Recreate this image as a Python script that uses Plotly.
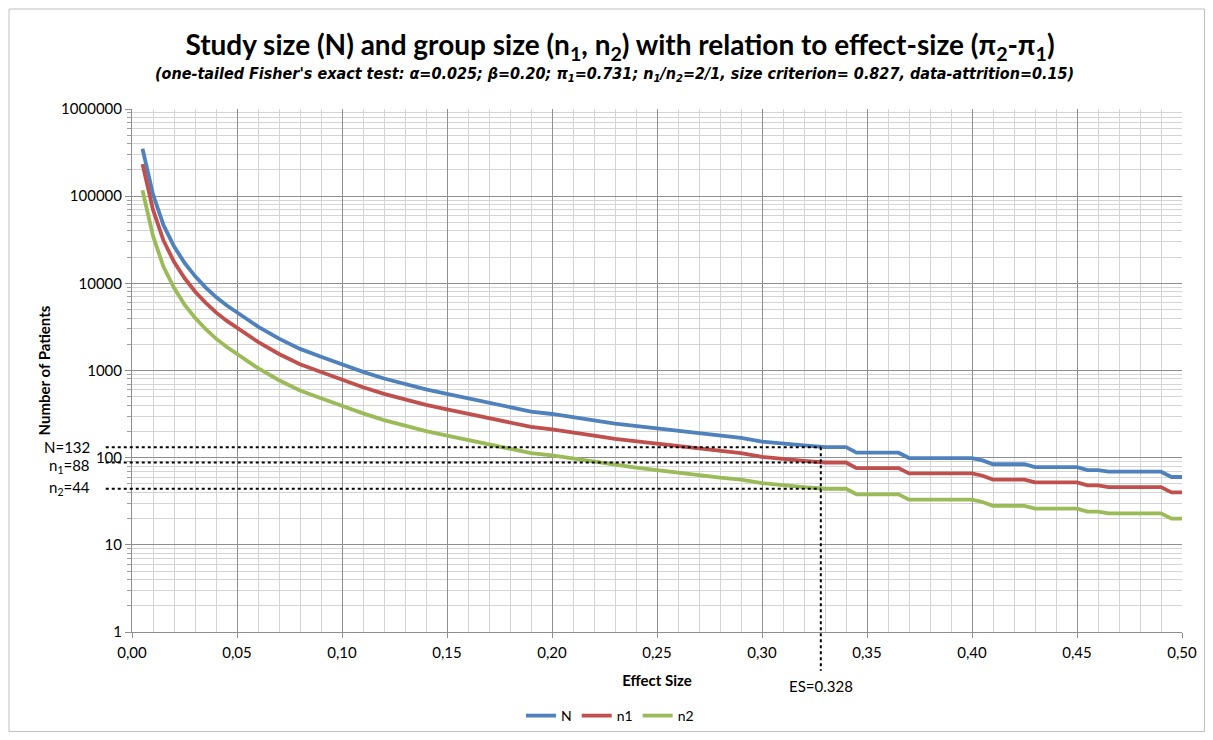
import math
import plotly.graph_objects as go

# ---- data ----
effect_size = [0.005, 0.01, 0.015, 0.02, 0.025, 0.03, 0.035, 0.04, 0.045, 0.05,
               0.06, 0.07, 0.08, 0.09, 0.10, 0.11, 0.12, 0.13, 0.14, 0.15,
               0.16, 0.17, 0.18, 0.19, 0.20, 0.21, 0.22, 0.23, 0.24, 0.25,
               0.26, 0.27, 0.28, 0.29, 0.30, 0.31, 0.32, 0.33, 0.335, 0.34,
               0.345, 0.35, 0.355, 0.36, 0.365, 0.37, 0.375, 0.38, 0.385, 0.39,
               0.395, 0.40, 0.405, 0.41, 0.415, 0.42, 0.425, 0.43, 0.435, 0.44,
               0.445, 0.45, 0.455, 0.46, 0.465, 0.47, 0.475, 0.48, 0.485, 0.49,
               0.495, 0.50]

N_total = [350000, 105000, 46500, 26600, 17200, 12100, 9000, 6960, 5600, 4660,
           3190, 2320, 1770, 1440, 1177, 965, 810, 698, 606, 538,
           479, 423, 379, 338, 317, 294, 268, 246, 231, 217,
           203, 190, 178, 169, 153, 147, 138, 132, 132, 132,
           114, 114, 114, 114, 114, 99, 99, 99, 99, 99,
           99, 99, 93, 84, 84, 84, 84, 78, 78, 78,
           78, 78, 72, 72, 69, 69, 69, 69, 69, 69,
           60, 60]

n1_group = [233000, 70000, 31000, 17700, 11500, 8070, 6000, 4640, 3730, 3110,
            2127, 1547, 1180, 960, 785, 643, 540, 465, 404, 359,
            319, 282, 253, 225, 211, 196, 179, 164, 154, 145,
            135, 127, 119, 113, 102, 98, 92, 88, 88, 88,
            76, 76, 76, 76, 76, 66, 66, 66, 66, 66,
            66, 66, 62, 56, 56, 56, 56, 52, 52, 52,
            52, 52, 48, 48, 46, 46, 46, 46, 46, 46,
            40, 40]

n2_group = [117000, 35000, 15500, 8900, 5700, 4030, 3000, 2320, 1870, 1550,
            1063, 773, 590, 480, 392, 322, 270, 233, 202, 179,
            160, 141, 126, 113, 106, 98, 89, 82, 77, 72,
            68, 63, 59, 56, 51, 49, 46, 44, 44, 44,
            38, 38, 38, 38, 38, 33, 33, 33, 33, 33,
            33, 33, 31, 28, 28, 28, 28, 26, 26, 26,
            26, 26, 24, 24, 23, 23, 23, 23, 23, 23,
            20, 20]

series_names = ["N", "n1", "n2"]
series_colors = ["#4F81BD", "#C0504D", "#9BBB59"]

es_marker = 0.328
N_marker = 132
n1_marker = 88
n2_marker = 44

x_max = 0.5
y_decades = 6

title_text = ("<b>Study size (N) and group size (n<sub>1</sub>, n<sub>2</sub>) "
              "with relation to effect-size (π<sub>2</sub>-π<sub>1</sub>)</b>")
subtitle_text = ("<b><i>(one-tailed Fisher's exact test: α=0.025; β=0.20; π<sub>1</sub>=0.731; "
                 "n<sub>1</sub>/n<sub>2</sub>=2/1, size criterion= 0.827, data-attrition=0.15)</i></b>")

# ---- figure geometry (page has an 8px body margin) ----
OFF = 8
FIG_W, FIG_H = 1197, 724
M_L, M_T = 132 - OFF, 109 - OFF
PLOT_W, PLOT_H = 1050, 523
M_R = FIG_W - M_L - PLOT_W
M_B = FIG_H - M_T - PLOT_H


def cx(page_x):
    return (page_x - OFF) / FIG_W


def cy(page_y):
    return 1 - (page_y - OFF) / FIG_H


fig = go.Figure()
for name, vals, col in zip(series_names, [N_total, n1_group, n2_group], series_colors):
    fig.add_trace(go.Scatter(x=effect_size, y=vals, name=name, mode="lines",
                             line=dict(color=col, width=3.8)))

base_font = "Lato, 'Open Sans', Arial, sans-serif"

fig.update_layout(
    width=FIG_W, height=FIG_H,
    margin=dict(l=M_L, r=M_R, t=M_T, b=M_B, autoexpand=False),
    paper_bgcolor="white", plot_bgcolor="white",
    separators=",.",
    font=dict(family=base_font, size=14, color="#000000"),
    title=dict(text=title_text, x=cx(620), xref="container", xanchor="center",
               y=cy(45), yref="container", yanchor="middle",
               font=dict(family="Lato, 'Open Sans', sans-serif", size=28, color="#000")),
    showlegend=True,
    legend=dict(orientation="h", xref="container", yref="container",
                x=cx(610), xanchor="center", y=cy(716), yanchor="middle",
                font=dict(size=14), itemwidth=30, tracegroupgap=0, bgcolor="rgba(0,0,0,0)"),
)

fig.update_xaxes(
    range=[0, x_max], dtick=0.05, tick0=0, tickformat=".2f",
    showgrid=True, gridcolor="#8F8F8F", gridwidth=1,
    showline=True, linecolor="#8F8F8F", linewidth=1, mirror=False,
    ticks="outside", ticklen=5, tickcolor="#8F8F8F",
    ticklabelstandoff=2,
    minor=dict(dtick=0.01, showgrid=True, gridcolor="#D4D4D4", gridwidth=1),
    zeroline=False,
    title=dict(text="<b>Effect Size</b>", font=dict(size=15), standoff=15),
    tickfont=dict(size=15),
)
fig.update_yaxes(
    type="log", range=[0, y_decades], dtick=1, tickformat="d",
    showgrid=True, gridcolor="#8F8F8F", gridwidth=1,
    showline=True, linecolor="#8F8F8F", linewidth=1,
    ticks="outside", ticklen=6, tickcolor="#8F8F8F",
    minor=dict(dtick="D1", showgrid=True, gridcolor="#D4D4D4", gridwidth=1,
               ticks="outside", ticklen=4, tickcolor="#A0A0A0"),
    zeroline=False,
    title=dict(text="<b>Number of Patients</b>", font=dict(size=15), standoff=6),
    tickfont=dict(size=15),
)

# ---- reference lines (shapes on a log axis take data values) ----
line_style = dict(color="black", width=2, dash="dot")
for val in [N_marker, n1_marker, n2_marker]:
    fig.add_shape(type="line", xref="paper", yref="y",
                  x0=-0.025, x1=es_marker / x_max,
                  y0=val, y1=val, line=line_style)
fig.add_shape(type="line", xref="x", yref="paper",
              x0=es_marker, x1=es_marker,
              y0=math.log10(N_marker) / y_decades, y1=-0.074, line=line_style)

labels = [f"N={N_marker}", f"n<sub>1</sub>={n1_marker}", f"n<sub>2</sub>={n2_marker}"]
offsets = [0, -3, 1]
for txt, val, off in zip(labels, [N_marker, n1_marker, n2_marker], offsets):
    fig.add_annotation(text=txt, xref="paper", yref="y", x=-0.038, y=math.log10(val),
                       xanchor="right", yanchor="middle", yshift=off, showarrow=False,
                       font=dict(size=15))
fig.add_annotation(text=f"ES={es_marker}", xref="x", yref="paper", x=es_marker, y=-0.103,
                   xanchor="center", yanchor="middle", showarrow=False, font=dict(size=15))

fig.add_annotation(text=subtitle_text, xref="paper", yref="paper", x=(614 - 132) / PLOT_W,
                   y=1 + (109 - 75) / PLOT_H, xanchor="center", yanchor="middle",
                   showarrow=False,
                   font=dict(family="'Liberation Sans Narrow', 'DejaVu Sans Condensed', Lato, sans-serif",
                             size=16))

# outer chart border
fig.add_shape(type="rect", xref="paper", yref="paper",
              x0=(9 - 132) / PLOT_W, x1=(1204.5 - 132) / PLOT_W,
              y0=(632 - 731.5) / PLOT_H, y1=(632 - 9) / PLOT_H,
              line=dict(color="#BFBFBF", width=1), layer="below")

fig.write_html("out.html")
